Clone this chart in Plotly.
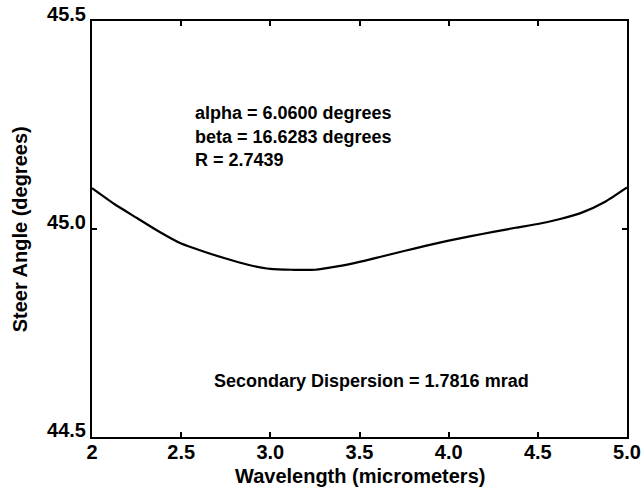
import plotly.graph_objects as go

wavelength = [2.0, 2.125, 2.25, 2.375, 2.5, 2.625, 2.75, 2.875, 3.0, 3.125, 3.25, 3.375, 3.5, 3.625, 3.75, 3.875, 4.0, 4.125, 4.25, 4.375, 4.5, 4.625, 4.75, 4.875, 5.0]
steer_angle = [45.098, 45.060, 45.027, 44.994, 44.965, 44.946, 44.929, 44.914, 44.904, 44.902, 44.902, 44.910, 44.921, 44.934, 44.947, 44.960, 44.972, 44.983, 44.993, 45.003, 45.012, 45.024, 45.040, 45.065, 45.100]

x_ticks = [2, 2.5, 3.0, 3.5, 4.0, 4.5, 5.0]
x_tick_labels = ["2", "2.5", "3.0", "3.5", "4.0", "4.5", "5.0"]
y_ticks = [44.5, 45.0, 45.5]
y_tick_labels = ["44.5", "45.0", "45.5"]

x_title = "Wavelength (micrometers)"
y_title = "Steer Angle (degrees)"
info_lines = ["alpha = 6.0600 degrees", "beta = 16.6283 degrees", "R = 2.7439"]
dispersion_text = "Secondary Dispersion = 1.7816 mrad"

FONT = "Liberation Sans, Arial, Helvetica, sans-serif"

fig = go.Figure()
fig.add_trace(go.Scatter(x=wavelength, y=steer_angle, mode="lines",
                         line=dict(color="black", width=2.2, shape="spline", smoothing=0.6),
                         showlegend=False, hoverinfo="skip"))

axis_common = dict(showgrid=False, zeroline=False, showline=True, linecolor="black", linewidth=2,
                   mirror="ticks", ticks="inside", ticklen=5, tickwidth=1.5, tickcolor="black",
                   automargin=False,
                   tickfont=dict(family=FONT, size=20, color="black", weight="bold"))

fig.update_xaxes(range=[2, 5], tickvals=x_ticks, ticktext=x_tick_labels, ticklabelstandoff=-4,
                 **axis_common)
fig.update_yaxes(range=[44.5, 45.5], tickvals=y_ticks, ticktext=y_tick_labels, ticklabelshift=-7,
                 **axis_common)

fig.add_annotation(text=x_title, xref="paper", yref="paper", x=0.5, y=-0.094,
                   xanchor="center", yanchor="middle", showarrow=False,
                   font=dict(family=FONT, size=20, color="black", weight="bold"))
fig.add_annotation(text=y_title, xref="paper", yref="paper", x=-0.134, y=0.5,
                   xanchor="center", yanchor="middle", showarrow=False, textangle=-90,
                   font=dict(family=FONT, size=20, color="black", weight="bold"))

ys = [0.779, 0.721, 0.666]
for txt, yp in zip(info_lines, ys):
    fig.add_annotation(text=txt, xref="paper", yref="paper", x=0.189, y=yp,
                       xanchor="left", yanchor="middle", showarrow=False,
                       font=dict(family=FONT, size=18, color="black", weight="bold"))

fig.add_annotation(text=dispersion_text, xref="paper", yref="paper", x=0.523, y=0.135,
                   xanchor="center", yanchor="middle", showarrow=False,
                   font=dict(family=FONT, size=18, color="black", weight="bold"))

fig.update_layout(width=643, height=490, margin=dict(l=92, r=16, t=21, b=53),
                  plot_bgcolor="white", paper_bgcolor="white")

fig.write_html("out.html")
